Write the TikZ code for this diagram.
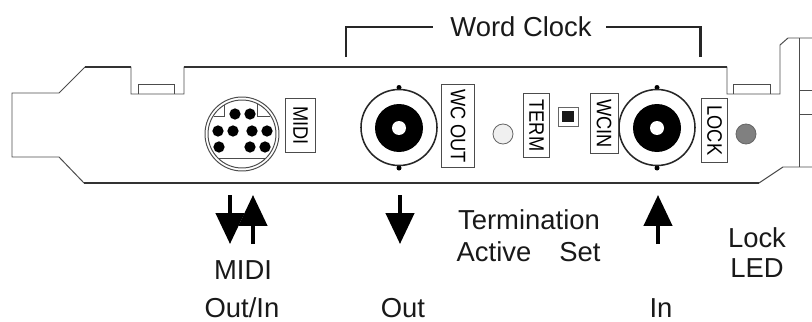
\documentclass[tikz,border=0pt]{standalone}
\usepackage{fontspec}
\setmainfont{Liberation Sans}
\newfontfamily\platefont[FakeStretch=.87]{Liberation Sans}
\usetikzlibrary{arrows.meta}
\tikzset{caption/.style={font=\fontsize{19.5}{23}\selectfont,inner sep=0pt,anchor=base,text=black!90},
 plate/.style={draw=black!70,line width=.6pt,fill=white,inner sep=0pt,font=\platefont\fontsize{14.9}{16}\selectfont,rotate=-90},
 board/.style={draw=black!70,line width=.7pt},
 edge/.style={draw=black!80,line width=1.1pt},
 bracket/.style={draw=black!85,line width=1.6pt},
 flow/.style={draw=black,line width=2.8pt,-{Triangle[length=22pt,width=20pt]}},
 pin/.style={circle,fill=black,minimum size=8pt,inner sep=0pt},
 }

\begin{document}
\begin{tikzpicture}[x=.025cm,y=-.025cm]
        \useasboundingbox (0, 0) rectangle (812, 322);
        % card outline
        \draw [board] (812, 38) -- (788, 38) -- (780, 45) -- (780, 94) -- (727, 94) -- (727, 67) -- (184, 67) -- (184, 94) -- (131, 94) -- (131, 67) -- (85, 67) -- (59, 93) -- (12, 93) -- (12, 157) -- (59, 157) -- (84, 183) -- (759, 183) -- (783, 167) -- (812, 167);
        \draw [edge] (184, 67) -- (727, 67);
        \draw [edge] (85, 67) -- (131, 67);
        \draw [edge] (84, 183) -- (759, 183);
        \draw [board] (138, 94) -- (138, 84) -- (174, 84) -- (174, 94);
        \draw [board] (733, 94) -- (733, 84) -- (770, 84) -- (770, 94);
        \draw [board] (799, 38) -- (799, 167);
        \draw [board] (799, 90) -- (812, 90);
        \draw [board] (799, 114) -- (812, 114);
        % midi socket
        \draw [board] (242, 134) circle (37);
        \draw [board] (242, 134) circle (34);
        \draw [board] (214, 116) -- (224, 116) -- (224, 105);
        \draw [board] (257, 104) -- (257, 116) -- (270, 116);
        \draw [board] (219, 158) -- (265, 158);
        \foreach \name/\px/\py in {a/235/114, b/250/114, c/218/131, d/233/131, e/252/131, f/267/131, g/219/147, h/250/147, i/265/147}
            \node [pin] (pin\name) at (\px, \py) {};
        \node [plate, minimum width=39pt, minimum height=21pt] (midiplate) at (300.5, 125.5) {MIDI};
        % bnc sockets
        \foreach \name/\px in {wcout/399, wcin/657} {
            \fill (\px, 87.5) circle (2.5);
            \fill (\px, 168) circle (2.5);
            \draw [draw=black!85, line width=1.1pt, fill=white] (\px, 127.5) circle (38);
            \fill (\px, 128) circle (24);
            \fill [white] (\px, 128) circle (7);
            \coordinate (\name) at (\px, 128);
        }
        \node [plate, minimum width=59.5pt, minimum height=24pt] (wcoutplate) at (458, 126) {WC OUT};
        \node [plate, minimum width=46pt, minimum height=19pt] (termplate) at (536.5, 125.5) {TERM};
        \node [plate, minimum width=43pt, minimum height=20pt] (wcinplate) at (604, 123.5) {WCIN};
        \node [plate, minimum width=45pt, minimum height=19pt] (lockplate) at (714.5, 130.5) {LOCK};
        % switch and leds
        \draw [black!60, line width=.7pt, fill=white] (558, 107) rectangle (578, 126);
        \fill [black!90] (562, 111) rectangle (574, 122);
        \draw [black!60, line width=.6pt, fill=black!6] (503, 134) circle (10);
        \draw [black!60, line width=.6pt, fill=black!50] (746, 134) circle (10);
        % word clock bracket
        \node [caption] (wordclock) at (521, 36) {Word Clock};
        \coordinate (wordleft) at (346, 57);
        \coordinate (wordright) at (700.5, 57);
        \coordinate (wordlefttop) at (433, 27);
        \coordinate (wordrighttop) at (606, 27);
        \draw [bracket] (wordleft) |- (wordlefttop);
        \draw [bracket] (wordright) |- (wordrighttop);
        % signal arrows
        \coordinate (midiouta) at (230, 195);
        \coordinate (midioutb) at (230, 244);
        \coordinate (midiina) at (253, 244);
        \coordinate (midiinb) at (253, 195);
        \coordinate (outa) at (400, 195);
        \coordinate (outb) at (400, 244);
        \coordinate (ina) at (658, 244);
        \coordinate (inb) at (658, 195);
        \draw [flow] (midiouta) -- (midioutb);
        \draw [flow] (midiina) -- (midiinb);
        \draw [flow] (outa) -- (outb);
        \draw [flow] (ina) -- (inb);
        % captions
        \node [caption] (midilabel) at (243, 279) {MIDI};
        \node [caption] (outinlabel) at (242, 317) {Out/In};
        \node [caption] (outlabel) at (403, 317) {Out};
        \node [caption] (inlabel) at (661, 317) {In};
        \node [caption] (termlabel) at (529, 229) {Termination};
        \node [caption] (activelabel) at (494, 261) {Active};
        \node [caption] (setlabel) at (580, 261) {Set};
        \node [caption] (locklabel) at (757, 247) {Lock};
        \node [caption] (ledlabel) at (757, 277) {LED};
    \end{tikzpicture}
\end{document}
